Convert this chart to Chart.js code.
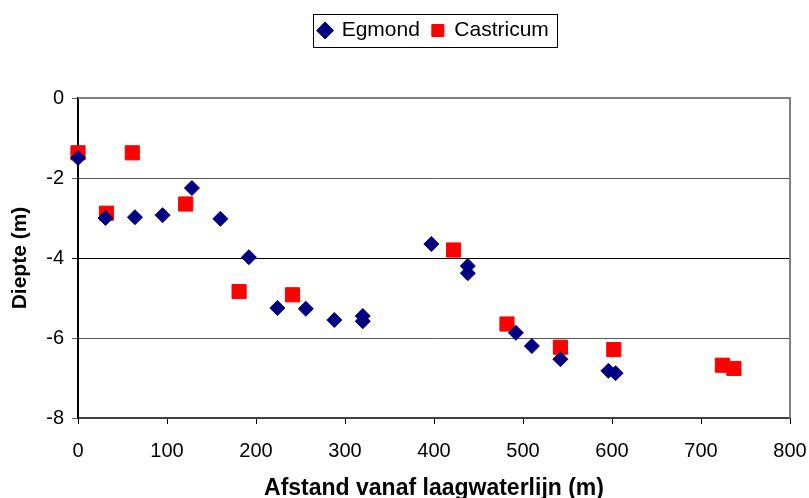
<!DOCTYPE html>
<html>
<head>
<meta charset="utf-8">
<script src="https://cdn.jsdelivr.net/npm/chart.js@4.4.1/dist/chart.umd.min.js"></script>
<style>
  html, body { margin: 0; padding: 0; background: #fff; }
</style>
</head>
<body>
<canvas id="diepte" width="809" height="498"></canvas>
<script>
// meetpunten: afstand tot laagwaterlijn (m) en diepte (m)
const egmondX = [0, 31, 64, 95, 128, 160, 192, 224, 256, 288, 320, 320, 397, 438, 438, 492, 510, 542, 596, 604];
const egmondY = [-1.5, -3.0, -2.98, -2.93, -2.25, -3.02, -3.98, -5.25, -5.27, -5.55, -5.45, -5.58, -3.65, -4.2, -4.38, -5.87, -6.2, -6.53, -6.82, -6.88];
const castricumX = [0, 32, 61, 121, 181, 241, 422, 482, 542, 602, 724, 737];
const castricumY = [-1.37, -2.88, -1.37, -2.65, -4.84, -4.92, -3.8, -5.65, -6.23, -6.29, -6.68, -6.76];

const xTicks = [0, 100, 200, 300, 400, 500, 600, 700, 800];
const yTicks = [0, -2, -4, -6, -8];

const FONT = "'Liberation Sans', Arial, sans-serif";

const toPoints = (xs, ys) => xs.map((x, i) => ({ x, y: ys[i] }));

// extra ruimte onder de legenda, legenda gecentreerd boven het plotvlak
const legendLayout = {
  id: 'legendLayout',
  beforeInit(chart) {
    const fit = chart.legend.fit;
    chart.legend.fit = function () {
      fit.call(this);
      this.height += 47;
    };
  },
  afterLayout(chart) {
    const { legend, chartArea } = chart;
    const dx = (chartArea.left + chartArea.right) / 2 - (legend.left + legend.right) / 2;
    legend.left += dx;
    legend.right += dx;
  },
};

// kader om de legenda en grijze rand boven/rechts van het plotvlak
const frames = {
  id: 'frames',
  afterDraw(chart) {
    const { ctx, chartArea } = chart;
    ctx.save();
    ctx.strokeStyle = '#808080';
    ctx.lineWidth = 2;
    ctx.beginPath();
    ctx.moveTo(chartArea.left, chartArea.top);
    ctx.lineTo(chartArea.right, chartArea.top);
    ctx.lineTo(chartArea.right, chartArea.bottom);
    ctx.stroke();

    const boxes = chart.legend.legendHitBoxes;
    if (boxes && boxes.length) {
      const left = Math.min(...boxes.map(b => b.left)) - 6;
      const right = Math.max(...boxes.map(b => b.left + b.width)) + 8;
      const top = Math.min(...boxes.map(b => b.top)) - 6;
      const bottom = Math.max(...boxes.map(b => b.top + b.height)) + 6;
      ctx.strokeStyle = '#000';
      ctx.lineWidth = 1;
      ctx.strokeRect(Math.round(left) + 0.5, Math.round(top) + 0.5, Math.round(right - left), Math.round(bottom - top));
    }
    ctx.restore();
  },
};

new Chart(document.getElementById('diepte'), {
  type: 'scatter',
  data: {
    datasets: [
      {
        label: 'Egmond',
        data: toPoints(egmondX, egmondY),
        pointStyle: 'rectRot',
        pointRadius: 7.5,
        pointHoverRadius: 7.5,
        backgroundColor: '#000080',
        borderColor: '#000080',
        borderWidth: 1,
        clip: false,
      },
      {
        label: 'Castricum',
        data: toPoints(castricumX, castricumY),
        pointStyle: 'rect',
        pointRadius: 10,
        pointHoverRadius: 10,
        backgroundColor: '#ff0000',
        borderColor: '#ff0000',
        borderWidth: 1,
        clip: false,
      },
    ],
  },
  options: {
    responsive: false,
    animation: false,
    devicePixelRatio: 1,
    layout: { padding: { top: 8, right: 0, left: 8, bottom: 0 } },
    plugins: {
      tooltip: { enabled: false },
      legend: {
        position: 'top',
        labels: {
          usePointStyle: true,
          boxHeight: 12,
          boxWidth: 12,
          padding: 12,
          color: '#000',
          font: { family: FONT, size: 21 },
        },
      },
    },
    scales: {
      x: {
        type: 'linear',
        min: 0,
        max: 800,
        afterBuildTicks(scale) {
          scale.ticks = xTicks.map(v => ({ value: v }));
        },
        afterFit(scale) {
          scale.height = 80;
          scale.paddingRight = 19;
        },
        grid: { drawOnChartArea: false, drawTicks: true, tickLength: 6, color: '#000' },
        border: { color: '#404040', width: 2 },
        ticks: { color: '#000', padding: 15, font: { family: FONT, size: 20 } },
        title: {
          display: true,
          text: 'Afstand vanaf laagwaterlijn (m)',
          color: '#000',
          font: { family: FONT, size: 23, weight: 'bold' },
          padding: { top: 4, bottom: -4 },
        },
      },
      y: {
        type: 'linear',
        min: -8,
        max: 0,
        afterBuildTicks(scale) {
          scale.ticks = yTicks.map(v => ({ value: v }));
        },
        afterFit(scale) {
          scale.width = 70;
        },
        grid: {
          tickLength: 6,
          color: ctx => (ctx.tick && ctx.tick.value === -4 ? '#000' : '#5a5a5a'),
          lineWidth: 1,
        },
        border: { color: '#000', width: 2 },
        ticks: { color: '#000', padding: 8, font: { family: FONT, size: 20 } },
        title: {
          display: true,
          text: 'Diepte (m)',
          color: '#000',
          font: { family: FONT, size: 21, weight: 'bold' },
          padding: 0,
        },
      },
    },
  },
  plugins: [legendLayout, frames],
});
</script>
</body>
</html>
